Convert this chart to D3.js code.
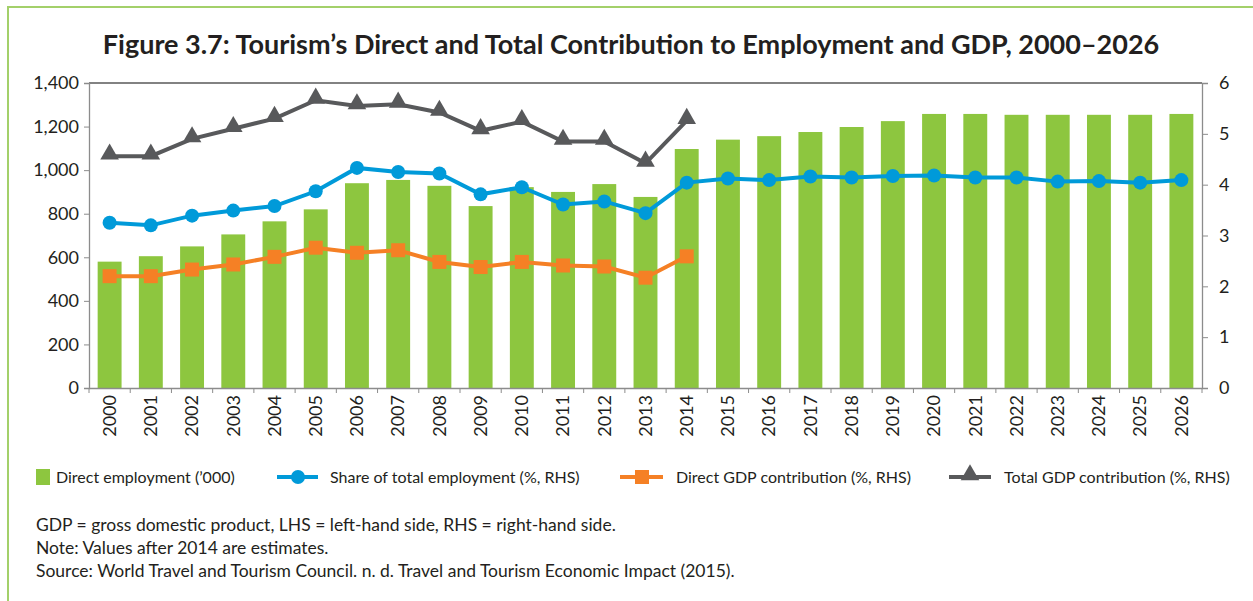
<!DOCTYPE html>
<html>
<head>
<meta charset="utf-8">
<script src="https://cdn.jsdelivr.net/npm/d3@7"></script>
<style>
  body { margin: 0; background: #fff; }
  svg text { font-family: Lato, "Open Sans", sans-serif; fill: #231f20; }
</style>
</head>
<body>
<svg id="svg"></svg>
<script>
const years = d3.range(2000, 2027).map(String)
const directEmployment = [580, 605, 650, 705, 765, 820, 940, 955, 928, 835, 922, 900, 936, 877, 1097,
  1140, 1156, 1175, 1198, 1225, 1258, 1258, 1254, 1254, 1254, 1254, 1258]
const shareEmployment = [3.25, 3.20, 3.39, 3.49, 3.58, 3.87, 4.33, 4.25, 4.22, 3.81, 3.95, 3.61, 3.67, 3.44, 4.04,
  4.12, 4.09, 4.16, 4.14, 4.17, 4.18, 4.14, 4.14, 4.06, 4.07, 4.04, 4.09]
const directGdp = [2.20, 2.20, 2.33, 2.43, 2.58, 2.76, 2.66, 2.71, 2.48, 2.38, 2.48, 2.41, 2.39, 2.17, 2.59]
const totalGdp = [4.56, 4.56, 4.90, 5.10, 5.30, 5.66, 5.55, 5.58, 5.42, 5.06, 5.24, 4.85, 4.85, 4.42, 5.26]
const leftTicks = [0, 200, 400, 600, 800, 1000, 1200, 1400]
const rightTicks = [0, 1, 2, 3, 4, 5, 6]

const svg = d3.select("#svg").attr("width", 1253).attr("height", 601)

// frame
svg.append("path").attr("d", "M8,601 V7 H1253").attr("fill", "none").attr("stroke", "#a3d06a").attr("stroke-width", 2)

svg.append("text")
  .attr("x", 631).attr("y", 54)
  .attr("text-anchor", "middle")
  .attr("font-size", 27).attr("font-weight", "bold")
  .text("Figure 3.7: Tourism\u2019s Direct and Total Contribution to Employment and GDP, 2000\u20132026")

const plotLeft = 89, plotRight = 1202, plotTop = 83, plotBottom = 388

const x = d3.scaleBand().domain(years).range([plotLeft, plotRight]).paddingInner(0.42).paddingOuter(0.21)
const yL = d3.scaleLinear().domain([0, 1400]).range([plotBottom, plotTop])
const yR = d3.scaleLinear().domain([0, 6]).range([plotBottom, plotTop])
const cx = (d, i) => x(years[i]) + x.bandwidth() / 2

// top border
svg.append("line").attr("x1", plotLeft).attr("x2", plotRight).attr("y1", plotTop).attr("y2", plotTop)
  .attr("stroke", "#595959").attr("stroke-width", 1.3)

svg.append("g").selectAll("rect")
  .data(directEmployment)
  .enter()
  .append("rect")
  .attr("x", (d, i) => x(years[i]))
  .attr("y", (d) => yL(d))
  .attr("width", x.bandwidth())
  .attr("height", (d) => plotBottom - yL(d))
  .attr("fill", "#8dc63f")

const axisStyle = (g) => {
  g.selectAll(".domain").attr("stroke", "#8c8c8c").attr("stroke-width", 1.3)
  g.selectAll(".tick line").attr("stroke", "#8c8c8c")
  g.selectAll(".tick text").attr("font-size", 18).attr("fill", "#231f20")
    .style("font-family", "Lato, sans-serif")
}

svg.append("g").attr("transform", `translate(${plotLeft},0)`)
  .call(d3.axisLeft(yL).tickValues(leftTicks).tickFormat(d3.format(",")).tickSize(5).tickPadding(5))
  .call(axisStyle)

svg.append("g").attr("transform", `translate(${plotRight},0)`)
  .call(d3.axisRight(yR).tickValues(rightTicks).tickFormat(d3.format("d")).tickSize(6).tickPadding(11))
  .call(axisStyle)

const xAxis = svg.append("g").attr("transform", `translate(0,${plotBottom})`)
  .call(d3.axisBottom(x).tickSize(0).tickPadding(0))
  .call(axisStyle)
xAxis.selectAll(".tick text")
  .attr("transform", "rotate(-90)")
  .attr("text-anchor", "end")
  .attr("x", -7).attr("y", 0).attr("dy", "0.35em")
// ticks between categories
xAxis.selectAll(".sep")
  .data(d3.range(years.length + 1))
  .enter()
  .append("line")
  .attr("x1", (d) => plotLeft + d * x.step()).attr("x2", (d) => plotLeft + d * x.step())
  .attr("y1", 0).attr("y2", 5)
  .attr("stroke", "#8c8c8c")

const line = (scale) => d3.line().x(cx).y((d) => scale(d))

// total GDP
svg.append("path").datum(totalGdp).attr("d", line(yR)).attr("fill", "none")
  .attr("stroke", "#58595b").attr("stroke-width", 4)
svg.append("g").selectAll("path").data(totalGdp).enter().append("path")
  .attr("d", d3.symbol(d3.symbolTriangle, 150))
  .attr("transform", (d, i) => `translate(${cx(d, i)},${yR(d) - 2})`)
  .attr("fill", "#58595b")

// share of employment
svg.append("path").datum(shareEmployment).attr("d", line(yR)).attr("fill", "none")
  .attr("stroke", "#009ad9").attr("stroke-width", 4)
svg.append("g").selectAll("circle").data(shareEmployment).enter().append("circle")
  .attr("cx", cx).attr("cy", (d) => yR(d)).attr("r", 7)
  .attr("fill", "#009ad9")

// direct GDP
svg.append("path").datum(directGdp).attr("d", line(yR)).attr("fill", "none")
  .attr("stroke", "#f58025").attr("stroke-width", 4)
svg.append("g").selectAll("rect").data(directGdp).enter().append("rect")
  .attr("x", (d, i) => cx(d, i) - 7).attr("y", (d) => yR(d) - 7)
  .attr("width", 14).attr("height", 14)
  .attr("fill", "#f58025")

// legend
const legend = svg.append("g").attr("transform", "translate(0,477)")
legend.append("rect").attr("x", 36).attr("y", -8).attr("width", 14).attr("height", 16).attr("fill", "#8dc63f")
legend.append("text").attr("x", 56).attr("y", 0).attr("dy", "0.35em").attr("font-size", 16)
  .text("Direct employment (\u2019000)")

legend.append("line").attr("x1", 277).attr("x2", 318).attr("y1", 0).attr("y2", 0)
  .attr("stroke", "#009ad9").attr("stroke-width", 4)
legend.append("circle").attr("cx", 298).attr("cy", 0).attr("r", 7).attr("fill", "#009ad9")
legend.append("text").attr("x", 330).attr("y", 0).attr("dy", "0.35em").attr("font-size", 16)
  .text("Share of total employment (%, RHS)")

legend.append("line").attr("x1", 620).attr("x2", 663).attr("y1", 0).attr("y2", 0)
  .attr("stroke", "#f58025").attr("stroke-width", 4)
legend.append("rect").attr("x", 635).attr("y", -7).attr("width", 14).attr("height", 14).attr("fill", "#f58025")
legend.append("text").attr("x", 676).attr("y", 0).attr("dy", "0.35em").attr("font-size", 16)
  .text("Direct GDP contribution (%, RHS)")

legend.append("line").attr("x1", 949).attr("x2", 991).attr("y1", 0).attr("y2", 0)
  .attr("stroke", "#58595b").attr("stroke-width", 4)
legend.append("path").attr("d", d3.symbol(d3.symbolTriangle, 150))
  .attr("transform", "translate(970,-2)").attr("fill", "#58595b")
legend.append("text").attr("x", 1004).attr("y", 0).attr("dy", "0.35em").attr("font-size", 16)
  .text("Total GDP contribution (%, RHS)")

const notes = [
  "GDP = gross domestic product, LHS = left-hand side, RHS = right-hand side.",
  "Note: Values after 2014 are estimates.",
  "Source: World Travel and Tourism Council. n. d. Travel and Tourism Economic Impact (2015)."
]
svg.append("g").selectAll("text").data(notes).enter().append("text")
  .attr("x", 36).attr("y", (d, i) => 531 + i * 23)
  .attr("font-size", 17.5)
  .text((d) => d)
</script>
</body>
</html>
